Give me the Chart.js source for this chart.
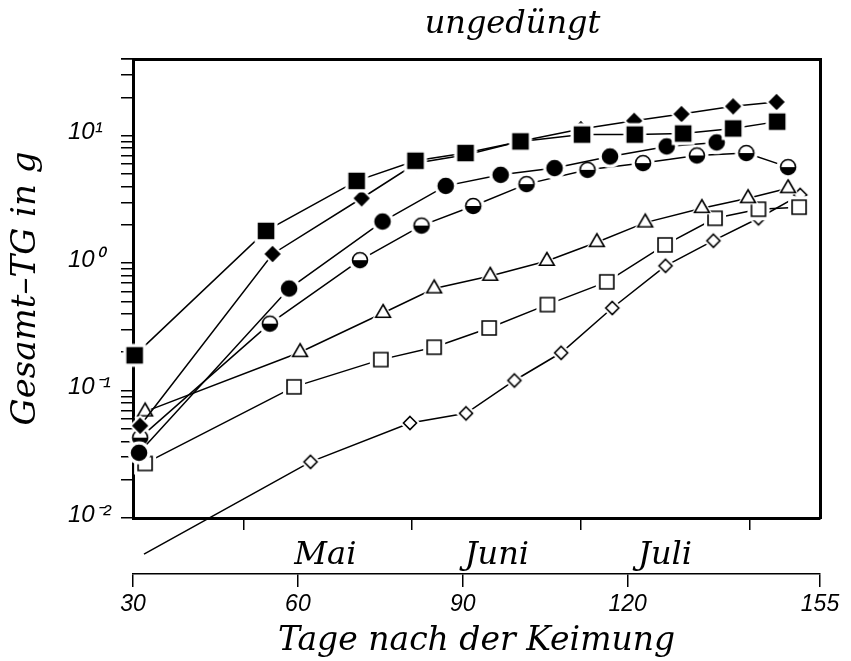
<!DOCTYPE html>
<html>
<head>
<meta charset="utf-8">
<script src="https://cdn.jsdelivr.net/npm/chart.js@4.4.1/dist/chart.umd.min.js"></script>
<style>
  html, body { margin: 0; padding: 0; background: #fff; }
  #wrap { width: 851px; height: 661px; }
</style>
</head>
<body>
<div id="wrap"><canvas id="chart"></canvas></div>
<script>
const titleText = "ungedüngt";
const xTitle = "Tage nach der Keimung";
const yTitle = "Gesamt–TG in g";

const dayTicks = [30, 60, 90, 120, 155];
const monthBounds = [50.2, 80.8, 111.5, 142.3];
const monthNames = ["Mai", "Juni", "Juli"];
const monthCenters = [65, 96.2, 126.8];
const yDecades = [0.01, 0.1, 1, 10];
const yDecadeLabels = ["10⁻²", "10⁻¹", "10⁰", "10¹"];
const yMin = 0.01;
const yMax = 40;

// filled squares
const sqFilledDays = [30.3, 54.2, 70.7, 81.4, 90.5, 100.5, 111.7, 121.3, 130.1, 139.2, 147.2];
const sqFilledVals = [0.189, 1.79, 4.42, 6.36, 7.31, 9.02, 10.2, 10.2, 10.4, 11.4, 12.9];
// filled diamonds
const dmFilledDays = [31.3, 55.4, 71.6, 81.6, 90.7, 100.7, 111.5, 121.2, 129.8, 139.2, 147.1];
const dmFilledVals = [0.053, 1.18, 3.23, 6.1, 7.1, 9.1, 11.3, 13.1, 14.8, 17.0, 18.4];
// filled circles
const ciFilledDays = [31.1, 58.4, 75.4, 86.9, 96.9, 106.7, 116.8, 127.1, 136.2];
const ciFilledVals = [0.0325, 0.632, 2.12, 4.04, 4.93, 5.57, 6.87, 8.24, 8.86];
// half filled circles
const ciHalfDays = [31.3, 54.9, 71.3, 82.5, 91.9, 101.6, 112.7, 122.8, 132.6, 141.6, 149.2];
const ciHalfVals = [0.0427, 0.335, 1.056, 1.97, 2.81, 4.17, 5.40, 6.10, 7.0, 7.31, 5.67];
// open triangles
const trOpenDays = [32.2, 60.4, 75.5, 84.8, 95.0, 105.3, 114.4, 123.2, 133.5, 141.9, 149.2];
const trOpenVals = [0.0684, 0.200, 0.406, 0.632, 0.794, 1.04, 1.46, 2.08, 2.70, 3.23, 3.87];
// open squares
const sqOpenDays = [32.2, 59.3, 75.1, 84.8, 94.8, 105.4, 116.2, 126.8, 135.9, 143.8, 151.2];
const sqOpenVals = [0.0268, 0.107, 0.175, 0.219, 0.31, 0.473, 0.713, 1.39, 2.25, 2.65, 2.75];
// open diamonds (first one lies below the axis)
const dmOpenDays = [32.0, 62.3, 80.4, 90.6, 99.4, 107.9, 117.2, 126.9, 135.6, 143.8, 151.4];
const dmOpenVals = [0.0052, 0.0276, 0.0557, 0.0663, 0.120, 0.198, 0.445, 0.953, 1.50, 2.25, 3.43];

const series = [
  { kind: "sqF", days: sqFilledDays, vals: sqFilledVals },
  { kind: "dmF", days: dmFilledDays, vals: dmFilledVals },
  { kind: "ciF", days: ciFilledDays, vals: ciFilledVals },
  { kind: "ciH", days: ciHalfDays, vals: ciHalfVals },
  { kind: "trO", days: trOpenDays, vals: trOpenVals },
  { kind: "sqO", days: sqOpenDays, vals: sqOpenVals },
  { kind: "dmO", days: dmOpenDays, vals: dmOpenVals },
];

// marker bitmaps with a white halo, so lines stop short of the symbols
function marker(kind) {
  const c = document.createElement("canvas");
  c.width = c.height = 34;
  const g = c.getContext("2d");
  const m = 17;
  const outline = (grow) => {
    g.beginPath();
    if (kind === "sqF" || kind === "sqO") {
      const h = (kind === "sqF" ? 7.5 : 7) + grow;
      g.rect(m - h, m - h, h * 2, h * 2);
    } else if (kind === "dmF" || kind === "dmO") {
      const h = (kind === "dmF" ? 7 : 6.5) + grow;
      g.moveTo(m, m - h);
      g.lineTo(m + h, m);
      g.lineTo(m, m + h);
      g.lineTo(m - h, m);
      g.closePath();
    } else if (kind === "trO") {
      const r = 8.5 + grow;
      for (let i = 0; i < 3; i++) {
        const a = -Math.PI / 2 + (i * 2 * Math.PI) / 3;
        const px = m + r * Math.cos(a);
        const py = m + r * Math.sin(a);
        if (i) g.lineTo(px, py);
        else g.moveTo(px, py);
      }
      g.closePath();
    } else {
      g.arc(m, m, 7.5 + grow, 0, Math.PI * 2);
    }
  };
  outline(4);
  g.fillStyle = "#fff";
  g.fill();
  outline(0);
  const filled = kind === "sqF" || kind === "dmF" || kind === "ciF";
  g.fillStyle = filled ? "#000" : "#fff";
  g.fill();
  if (kind === "ciH") {
    g.beginPath();
    g.arc(m, m, 7.5, 0, Math.PI);
    g.closePath();
    g.fillStyle = "#000";
    g.fill();
    outline(0);
  }
  g.lineWidth = 1.6;
  g.strokeStyle = "#000";
  g.stroke();
  return c;
}

function yTickList() {
  const out = [];
  for (const d of yDecades) {
    for (let k = 1; k <= 9; k++) {
      const v = d * k;
      if (v <= yMax * 1.0001) out.push({ value: v });
    }
  }
  out.push({ value: yMax });
  return out;
}

function decadeLabel(v) {
  const i = yDecades.findIndex((d) => Math.abs(d - v) < d * 1e-6);
  return i >= 0 ? yDecadeLabels[i] : "";
}

const serif = "'DejaVu Serif', serif";
const sans = "'Liberation Sans', Arial, sans-serif";

const headline = {
  id: "headline",
  afterDraw(chart) {
    const { ctx, chartArea } = chart;
    ctx.save();
    ctx.font = "italic 32px " + serif;
    ctx.fillStyle = "#000";
    ctx.textAlign = "center";
    ctx.textBaseline = "alphabetic";
    ctx.fillText(titleText, (chartArea.left + chartArea.right) / 2 + 36, chartArea.top - 26);
    ctx.restore();
  },
};

const blackBorder = { display: true, color: "#000", width: 3 };

new Chart(document.getElementById("chart"), {
  type: "line",
  data: {
    datasets: series.map((s) => ({
      data: s.days.map((d, i) => ({ x: d, y: s.vals[i] })),
      borderColor: "#000",
      borderWidth: 1.5,
      tension: 0,
      pointStyle: marker(s.kind),
      pointRadius: (ctx) => (ctx.raw && ctx.raw.y < yMin ? 0 : 8),
      clip: false,
    })),
  },
  options: {
    responsive: true,
    maintainAspectRatio: false,
    animation: false,
    events: [],
    layout: { padding: { top: 59, right: 31, left: 0, bottom: 0 } },
    plugins: { legend: { display: false }, tooltip: { enabled: false } },
    scales: {
      x: {
        type: "linear",
        position: "bottom",
        weight: 0,
        min: 30,
        max: 155,
        bounds: "data",
        afterBuildTicks: (s) => { s.ticks = monthBounds.map((v) => ({ value: v })); },
        afterFit: (s) => { s.height = 12; },
        ticks: { display: false },
        grid: { drawOnChartArea: false, tickLength: 12, color: "#000", lineWidth: 1.5 },
        border: blackBorder,
      },
      xMonths: {
        type: "linear",
        position: "bottom",
        weight: 1,
        min: 30,
        max: 155,
        bounds: "data",
        afterBuildTicks: (s) => { s.ticks = monthCenters.map((v) => ({ value: v })); },
        afterFit: (s) => { s.height = 44; },
        ticks: {
          autoSkip: false,
          maxRotation: 0,
          padding: 6,
          color: "#000",
          font: { family: serif, size: 32, style: "italic" },
          callback: (v, i) => monthNames[i],
        },
        grid: { display: false, drawTicks: false },
        border: { display: false },
      },
      xDays: {
        type: "linear",
        position: "bottom",
        weight: 2,
        min: 30,
        max: 155,
        bounds: "data",
        afterBuildTicks: (s) => { s.ticks = dayTicks.map((v) => ({ value: v })); },
        afterFit: (s) => { s.height = 87; },
        ticks: {
          autoSkip: false,
          maxRotation: 0,
          padding: 4,
          color: "#000",
          font: { family: sans, size: 23, style: "italic" },
          callback: (v) => String(v),
        },
        grid: { drawOnChartArea: false, tickLength: 13, color: "#000", lineWidth: 1.5 },
        border: { display: true, color: "#000", width: 1.5 },
        title: {
          display: true,
          text: xTitle,
          color: "#000",
          padding: { top: 0, bottom: 0 },
          font: { family: serif, size: 33, style: "italic" },
        },
      },
      xTop: {
        type: "linear",
        position: "top",
        min: 30,
        max: 155,
        afterFit: (s) => { s.height = 0; },
        ticks: { display: false },
        grid: { display: false, drawTicks: false },
        border: blackBorder,
      },
      y: {
        type: "logarithmic",
        position: "left",
        weight: 0,
        min: yMin,
        max: yMax,
        afterBuildTicks: (s) => { s.ticks = yTickList(); },
        afterFit: (s) => { s.width = 65; },
        ticks: {
          autoSkip: false,
          crossAlign: "far",
          labelOffset: -3,
          color: "#000",
          font: { family: sans, size: 24, style: "italic" },
          callback: (v) => decadeLabel(v),
        },
        grid: { drawOnChartArea: false, tickLength: 12, color: "#000", lineWidth: 1.5 },
        border: blackBorder,
      },
      yTitle: {
        type: "logarithmic",
        position: "left",
        weight: 1,
        min: yMin,
        max: yMax,
        afterFit: (s) => { s.width = 68; },
        ticks: { display: false },
        grid: { display: false, drawTicks: false },
        border: { display: false },
        title: {
          display: true,
          text: yTitle,
          color: "#000",
          padding: { top: 6, bottom: 0 },
          font: { family: serif, size: 34, style: "italic" },
        },
      },
      yRight: {
        type: "logarithmic",
        position: "right",
        min: yMin,
        max: yMax,
        afterFit: (s) => { s.width = 0; },
        ticks: { display: false },
        grid: { display: false, drawTicks: false },
        border: blackBorder,
      },
    },
  },
  plugins: [headline],
});
</script>
</body>
</html>
